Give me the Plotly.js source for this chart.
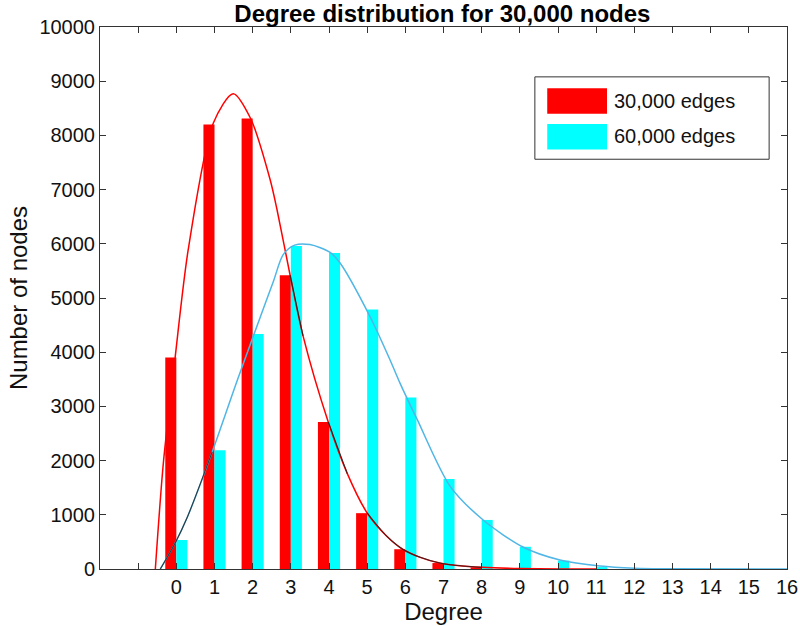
<!DOCTYPE html>
<html>
<head>
<meta charset="utf-8">
<script src="https://cdn.plot.ly/plotly-3.0.1.min.js"></script>
<style>
  body { margin: 0; background: #fff; }
  #chart { width: 800px; height: 626px; }
</style>
</head>
<body>
<div id="chart"></div>
<script>
// degree counts
var degrees = [0, 1, 2, 3, 4, 5, 6, 7, 8, 9, 10, 11, 12, 13, 14, 15, 16];
var edges30k = [3900, 8200, 8310, 5420, 2710, 1030, 365, 110, 30, 8, 2, 0, 0, 0, 0, 0, 0];
var edges60k = [535, 2190, 4335, 5960, 5830, 4790, 3165, 1660, 905, 410, 155, 35, 8, 2, 0, 0, 0];

// fitted curves, points
var redFitX = [-0.55, -0.34, -0.03, 0.31, 0.97, 1.49, 1.94, 2.46, 2.64, 2.98, 3.32, 3.98, 4.48, 5.0, 5.52, 5.94, 6.39, 6.9, 7.5, 8.0, 9.0, 10.0, 11.0];
var redFitY = [0, 1956, 3910, 5886, 8230, 8770, 8321, 7177, 6624, 5424, 4300, 2712, 1760, 1033, 600, 360, 215, 110, 55, 30, 8, 2, 0];

var blueFitX = [-0.42, -0.03, 0.29, 0.94, 1.6, 2.2, 2.54, 2.8, 3.1, 3.5, 4.03, 4.29, 5.08, 5.6, 5.86, 6.31, 7.17, 8.04, 9.08, 10.05, 11.1, 12.0, 13.0, 16.0];
var blueFitY = [0, 480, 960, 2160, 3487, 4650, 5300, 5800, 5975, 5985, 5840, 5646, 4650, 3856, 3430, 2760, 1530, 904, 406, 166, 55, 15, 3, 0];

// dark overlay visible in places on the lower of the two fits
var blackFitX = [-0.42, -0.03, 0.29, 0.94, null, 2.98, 3.32, null, 3.98, 4.48, null, 5.0, 5.52, 5.94, 6.39, 6.9, 7.5, 8.0];
var blackFitY = [0, 480, 960, 2160, null, 5424, 4300, null, 2712, 1760, null, 1033, 600, 360, 215, 110, 55, 30];

var tickVals = [-1, 0, 1, 2, 3, 4, 5, 6, 7, 8, 9, 10, 11, 12, 13, 14, 15, 16];
var tickText = ['', '0', '1', '2', '3', '4', '5', '6', '7', '8', '9', '10', '11', '12', '13', '14', '15', '16'];

var seriesNames = ['30,000 edges', '60,000 edges'];
var seriesColors = ['#ff0000', '#00ffff'];

var traces = [
    {
        x: degrees, y: edges30k, name: seriesNames[0], type: 'bar',
        marker: { color: seriesColors[0] }
    },
    {
        x: degrees, y: edges60k, name: seriesNames[1], type: 'bar',
        marker: { color: seriesColors[1] }
    },
    {
        x: redFitX, y: redFitY, type: 'scatter', mode: 'lines',
        line: { color: '#ff0000', width: 1.5, shape: 'spline', smoothing: 0.8 }
    },
    {
        x: blueFitX, y: blueFitY, type: 'scatter', mode: 'lines',
        line: { color: '#4fb6e6', width: 1.5, shape: 'spline', smoothing: 0.8 }
    },
    {
        x: blackFitX, y: blackFitY, type: 'scatter', mode: 'lines',
        connectgaps: false, opacity: 0.85,
        line: { color: '#222222', width: 1.1, shape: 'spline', smoothing: 0.8 }
    }
];

var font = 'Liberation Sans, Arial, Helvetica, sans-serif';

// legend box drawn by hand so the swatches match the MATLAB style
var shapes = [
    { type: 'rect', xref: 'paper', yref: 'paper', x0: 0.633, x1: 0.974, y0: 0.756, y1: 0.908,
      line: { color: '#333', width: 1 }, fillcolor: '#fff', layer: 'above' }
];
var annotations = [];
seriesNames.forEach(function (name, i) {
    var top = 0.887 - i * 0.066;
    shapes.push({ type: 'rect', xref: 'paper', yref: 'paper', x0: 0.651, x1: 0.738,
        y0: top - 0.047, y1: top, line: { width: 0 }, fillcolor: seriesColors[i], layer: 'above' });
    annotations.push({ xref: 'paper', yref: 'paper', x: 0.745, y: top - 0.023,
        xanchor: 'left', yanchor: 'middle', showarrow: false, text: name,
        font: { family: font, size: 20, color: '#111' } });
});

var layout = {
    width: 800,
    height: 626,
    margin: { l: 100, r: 13, t: 27, b: 57 },
    paper_bgcolor: '#fff',
    plot_bgcolor: '#fff',
    showlegend: false,
    barmode: 'group',
    bargap: 0.42,
    bargroupgap: 0,
    font: { family: font, size: 20, color: '#111' },
    title: {
        text: '<b>Degree distribution for 30,000 nodes</b>',
        font: { family: font, size: 24, color: '#000' },
        x: 0.553, xanchor: 'center', y: 0.979, yanchor: 'middle'
    },
    xaxis: {
        range: [-2, 16],
        tickmode: 'array',
        tickvals: tickVals,
        ticktext: tickText,
        ticks: 'inside',
        ticklen: 6,
        tickcolor: '#333',
        showgrid: false,
        zeroline: false,
        showline: true,
        linecolor: '#333',
        linewidth: 1,
        mirror: 'ticks',
        tickfont: { size: 20 },
        title: { text: 'Degree', font: { size: 24 }, standoff: 0 }
    },
    yaxis: {
        range: [0, 10000],
        dtick: 1000,
        tickformat: 'd',
        ticks: 'inside',
        ticklen: 6,
        tickcolor: '#333',
        showgrid: false,
        zeroline: false,
        showline: true,
        linecolor: '#333',
        linewidth: 1,
        mirror: 'ticks',
        tickfont: { size: 20 },
        title: { text: 'Number of nodes', font: { size: 24 }, standoff: 4 }
    },
    shapes: shapes,
    annotations: annotations
};

Plotly.newPlot('chart', traces, layout, { displayModeBar: false, staticPlot: true });
</script>
</body>
</html>
